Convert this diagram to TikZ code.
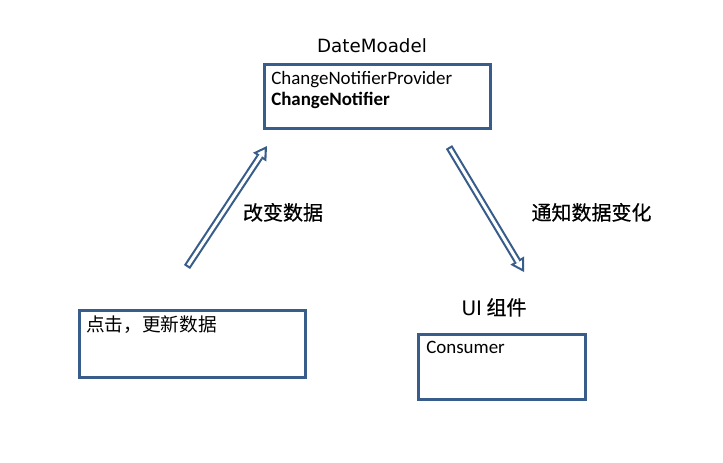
\documentclass[tikz,border=0pt]{standalone}
\usepackage{fontspec}
\setmainfont{Carlito}
\newfontfamily\cjk{Noto Sans CJK SC}
\newfontfamily\cjkheavy[FakeBold=0.6]{Noto Sans CJK SC}
\newfontfamily\dvs{DejaVu Sans}
\usetikzlibrary{arrows.meta}
\definecolor{boxblue}{HTML}{385D8A}

\begin{document}
\begin{tikzpicture}[
                      x=0.75pt, y=-0.75pt,
                      box/.style={rectangle, draw=boxblue, line width=2.3pt, anchor=north west, inner sep=0pt},
                      txt/.style={anchor=base west, inner sep=0pt, font=\fontsize{14.2pt}{17pt}\selectfont},
                      ttl/.style={anchor=base, inner sep=0pt, font=\dvs\fontsize{13.7pt}{16pt}\selectfont},
                      cn/.style={anchor=base, inner sep=0pt, font=\cjkheavy\fontsize{15pt}{18pt}\selectfont},
                      hollowout/.style={draw=boxblue, line width=5.5pt, -{Triangle[length=10pt, width=12pt, line width=0pt]}},
                      hollowin/.style={draw=white, line width=2.3pt, shorten >=3.1pt, shorten <=1.6pt, -{Triangle[length=5.3pt, width=6.4pt, line width=0pt]}}
                  ]
                  \useasboundingbox (0,0) rectangle (723,462);
                  % boxes
                  \node[box, minimum width=169.5pt, minimum height=48pt] at (263,63) (dm) {};
                  \node[box, minimum width=170pt, minimum height=50pt] at (77.5,309) (clk) {};
                  \node[box, minimum width=125pt, minimum height=49pt] at (417,332.5) (ui) {};
                  % titles and texts
                  \node[ttl] at (372,52) (dmtitle) {DateMoadel};
                  \node[txt] at (271,84) (prov) {ChangeNotifierProvider};
                  \node[txt] at (271,105) (notif) {\bfseries ChangeNotifier};
                  \node[txt, font=\cjk\fontsize{14pt}{17pt}\selectfont] at (86,331.5) (clktxt) {点击，更新数据};
                  \node[cn] at (494,315) (uititle) {{\dvs UI} 组件};
                  \node[txt] at (426,353) (cons) {Consumer};
                  % arrows
                  \coordinate (upfrom) at (187,267);
                  \coordinate (upto) at (267,146);
                  \coordinate (downfrom) at (449,147);
                  \coordinate (downto) at (524,272);
                  \draw[hollowout] (upfrom) -- (upto);
                  \draw[hollowin] (upfrom) -- (upto);
                  \draw[hollowout] (downfrom) -- (downto);
                  \draw[hollowin] (downfrom) -- (downto);
                  \node[cn] at (283,220) (chg) {改变数据};
                  \node[cn] at (591.5,220) (ntf) {通知数据变化};
              \end{tikzpicture}
\end{document}
